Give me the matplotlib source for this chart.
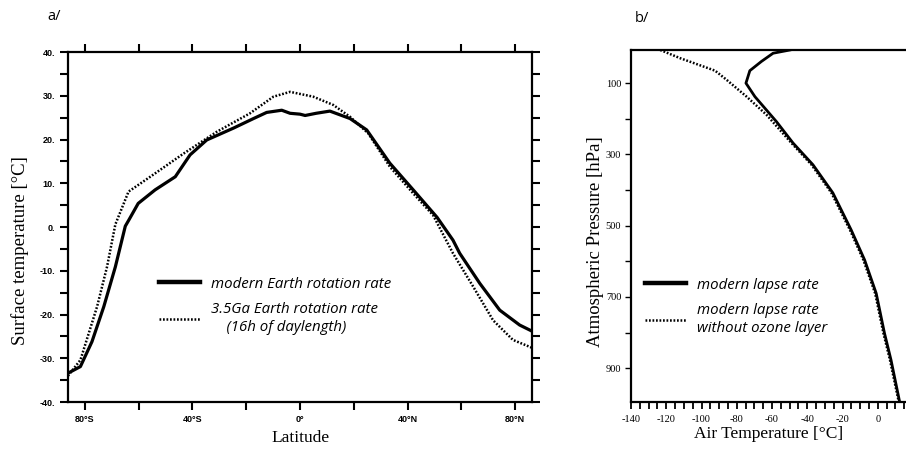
import numpy as np
import matplotlib
matplotlib.use("Agg")
import matplotlib.pyplot as plt

# ---- panel a: surface temperature vs latitude ----
lat_modern = [-86.3, -81.7, -77.4, -73.0, -68.7, -65.0, -63.5, -60.2, -53.9, -46.4,
              -40.9, -34.7, -24.8, -17.3, -12.4, -6.8, -3.7, 0.0, 1.9, 6.0, 11.1,
              18.6, 24.8, 33.4, 42.1, 51.0, 56.9, 59.4, 66.9, 74.3, 81.7, 86.3]
temp_modern = [-33.4, -31.9, -26.2, -18.2, -9.1, 0.2, 1.8, 5.4, 8.5, 11.5,
               16.5, 19.9, 22.6, 24.8, 26.2, 26.7, 26.0, 25.8, 25.5, 26.0, 26.5,
               24.8, 22.2, 14.6, 8.5, 2.2, -3.0, -6.0, -12.9, -19.0, -22.4, -23.8]

lat_archean = [-86.3, -81.7, -75.5, -71.8, -68.7, -63.8, -55.7, -43.3, -30.9, -18.6,
               -9.9, -3.7, 4.9, 12.4, 18.6, 25.4, 33.4, 42.1, 49.5, 56.9, 64.4,
               71.8, 79.2, 86.3]
temp_archean = [-34.0, -30.4, -18.2, -9.1, 0.6, 8.1, 11.5, 16.8, 21.8, 26.0,
                29.8, 30.9, 29.8, 27.9, 25.2, 21.4, 13.8, 7.7, 2.7, -6.0, -13.6,
                -21.3, -25.8, -27.6]

lat_ticks = [-80, -40, 0, 40, 80]
lat_ticklabels = ["80°S", "40°S", "0°", "40°N", "80°N"]
temp_ticks = [40, 30, 20, 10, 0, -10, -20, -30, -40]
temp_ticklabels = ["40.", "30.", "20.", "10.", "0.", "-10.", "-20.", "-30.", "-40."]

# ---- panel b: lapse rate profiles ----
p_modern = [7, 16, 39, 65, 100, 138, 208, 268, 329, 408, 484, 512, 596, 690, 802, 877, 990]
t_modern = [-49.9, -59.4, -66.0, -72.6, -74.8, -69.7, -57.5, -48.1, -36.8, -25.5,
            -17.9, -15.1, -7.5, -0.9, 3.8, 7.5, 12.2]

p_noozone = [7, 30, 65, 91, 138, 189, 268, 329, 408, 512, 596, 690, 802, 877, 990]
t_noozone = [-123.4, -112.1, -92.3, -85.7, -74.4, -63.1, -49.0, -37.6, -26.3,
             -15.8, -8.2, -1.5, 3.2, 6.9, 11.7]

p_ticks = [100, 300, 500, 700, 900]
t_ticks = [-140, -120, -100, -80, -60, -40, -20, 0]

serif = "Liberation Serif"
dots = (0, (0.7, 0.7))
legend_font = {"family": "Open Sans", "style": "italic", "size": 10.8}

fig = plt.figure(figsize=(9.06, 4.51), dpi=100)

# ---------------- a/ ----------------
ax = fig.add_axes([0.0751, 0.1086, 0.5121, 0.776])
ax.plot(lat_modern, temp_modern, color="black", lw=2.3, solid_joinstyle="round",
        label="modern Earth rotation rate")
ax.plot(lat_archean, temp_archean, color="black", lw=1.8, linestyle=dots,
        label="3.5Ga Earth rotation rate\n    (16h of daylength)")
ax.set_xlim(-86.3, 86.3)
ax.set_ylim(-40, 40)

ax.set_xticks(lat_ticks)
ax.set_xticklabels(lat_ticklabels, fontfamily="Liberation Sans", fontweight="bold", fontsize=6.5)
ax.set_xticks(np.arange(-80, 81, 20), minor=True)
ax.set_yticks(temp_ticks)
ax.set_yticklabels(temp_ticklabels, fontfamily="Liberation Sans", fontweight="bold", fontsize=6.5)
ax.set_yticks(np.arange(-35, 40, 10), minor=True)
ax.tick_params(which="both", direction="out", length=6, width=1.5,
               top=True, right=True, labeltop=False, labelright=False, pad=3)
for s in ax.spines.values():
    s.set_linewidth(1.6)

ax.set_xlabel("Latitude", fontfamily=serif, fontsize=12.5, labelpad=5)
ax.set_ylabel("Surface temperature [°C]", fontfamily=serif, fontsize=13.5)
ax.yaxis.set_label_coords(-0.085, 0.434)

leg = ax.legend(loc="upper left", bbox_to_anchor=(0.18, 0.38), frameon=False,
                handlelength=2.7, handletextpad=0.75, borderpad=0, labelspacing=0.7,
                prop=legend_font)
for t in leg.get_texts():
    t.set_linespacing(1.3)
leg.get_lines()[0].set_linewidth(3.2)

# ---------------- b/ ----------------
bx = fig.add_axes([0.6965, 0.1086, 0.3035, 0.7805])
bx.plot(t_modern, p_modern, color="black", lw=2.0, label="modern lapse rate")
bx.plot(t_noozone, p_noozone, color="black", lw=1.8, linestyle=dots,
        label="modern lapse rate\nwithout ozone layer")
bx.set_xlim(-140, 16)
bx.set_ylim(995, 7)

bx.set_xticks(t_ticks)
bx.set_xticklabels([str(v) for v in t_ticks], fontfamily=serif, fontsize=7.5)
bx.set_xticks(np.arange(-140, 16, 5), minor=True)
bx.set_yticks(p_ticks)
bx.set_yticklabels([str(v) for v in p_ticks], fontfamily=serif, fontsize=7.5)
bx.set_yticks(np.arange(200, 1000, 200), minor=True)
bx.tick_params(axis="x", which="both", direction="out", length=5, width=1.3, pad=4)
bx.tick_params(axis="y", which="both", direction="out", length=4, width=1.0, pad=3)
bx.spines["right"].set_visible(False)
for s in ["left", "top", "bottom"]:
    bx.spines[s].set_linewidth(1.6)

bx.set_xlabel("Air Temperature [°C]", fontfamily=serif, fontsize=12.5, labelpad=2)
bx.set_ylabel("Atmospheric Pressure [hPa]", fontfamily=serif, fontsize=13.5)
bx.yaxis.set_label_coords(-0.1, 0.457)

leg2 = bx.legend(loc="upper left", bbox_to_anchor=(0.025, 0.375), frameon=False,
                 handlelength=2.7, handletextpad=0.75, borderpad=0, labelspacing=0.7,
                 prop=legend_font)
for t in leg2.get_texts():
    t.set_linespacing(1.3)
leg2.get_lines()[0].set_linewidth(3.2)

fig.text(47 / 906, 1 - 16 / 451, "a/", fontfamily="Open Sans", fontsize=10.5, va="center", ha="left")
fig.text(635 / 906, 1 - 19 / 451, "b/", fontfamily="Open Sans", fontsize=10.5, va="center", ha="left")

fig.savefig("out.png", dpi=100)
